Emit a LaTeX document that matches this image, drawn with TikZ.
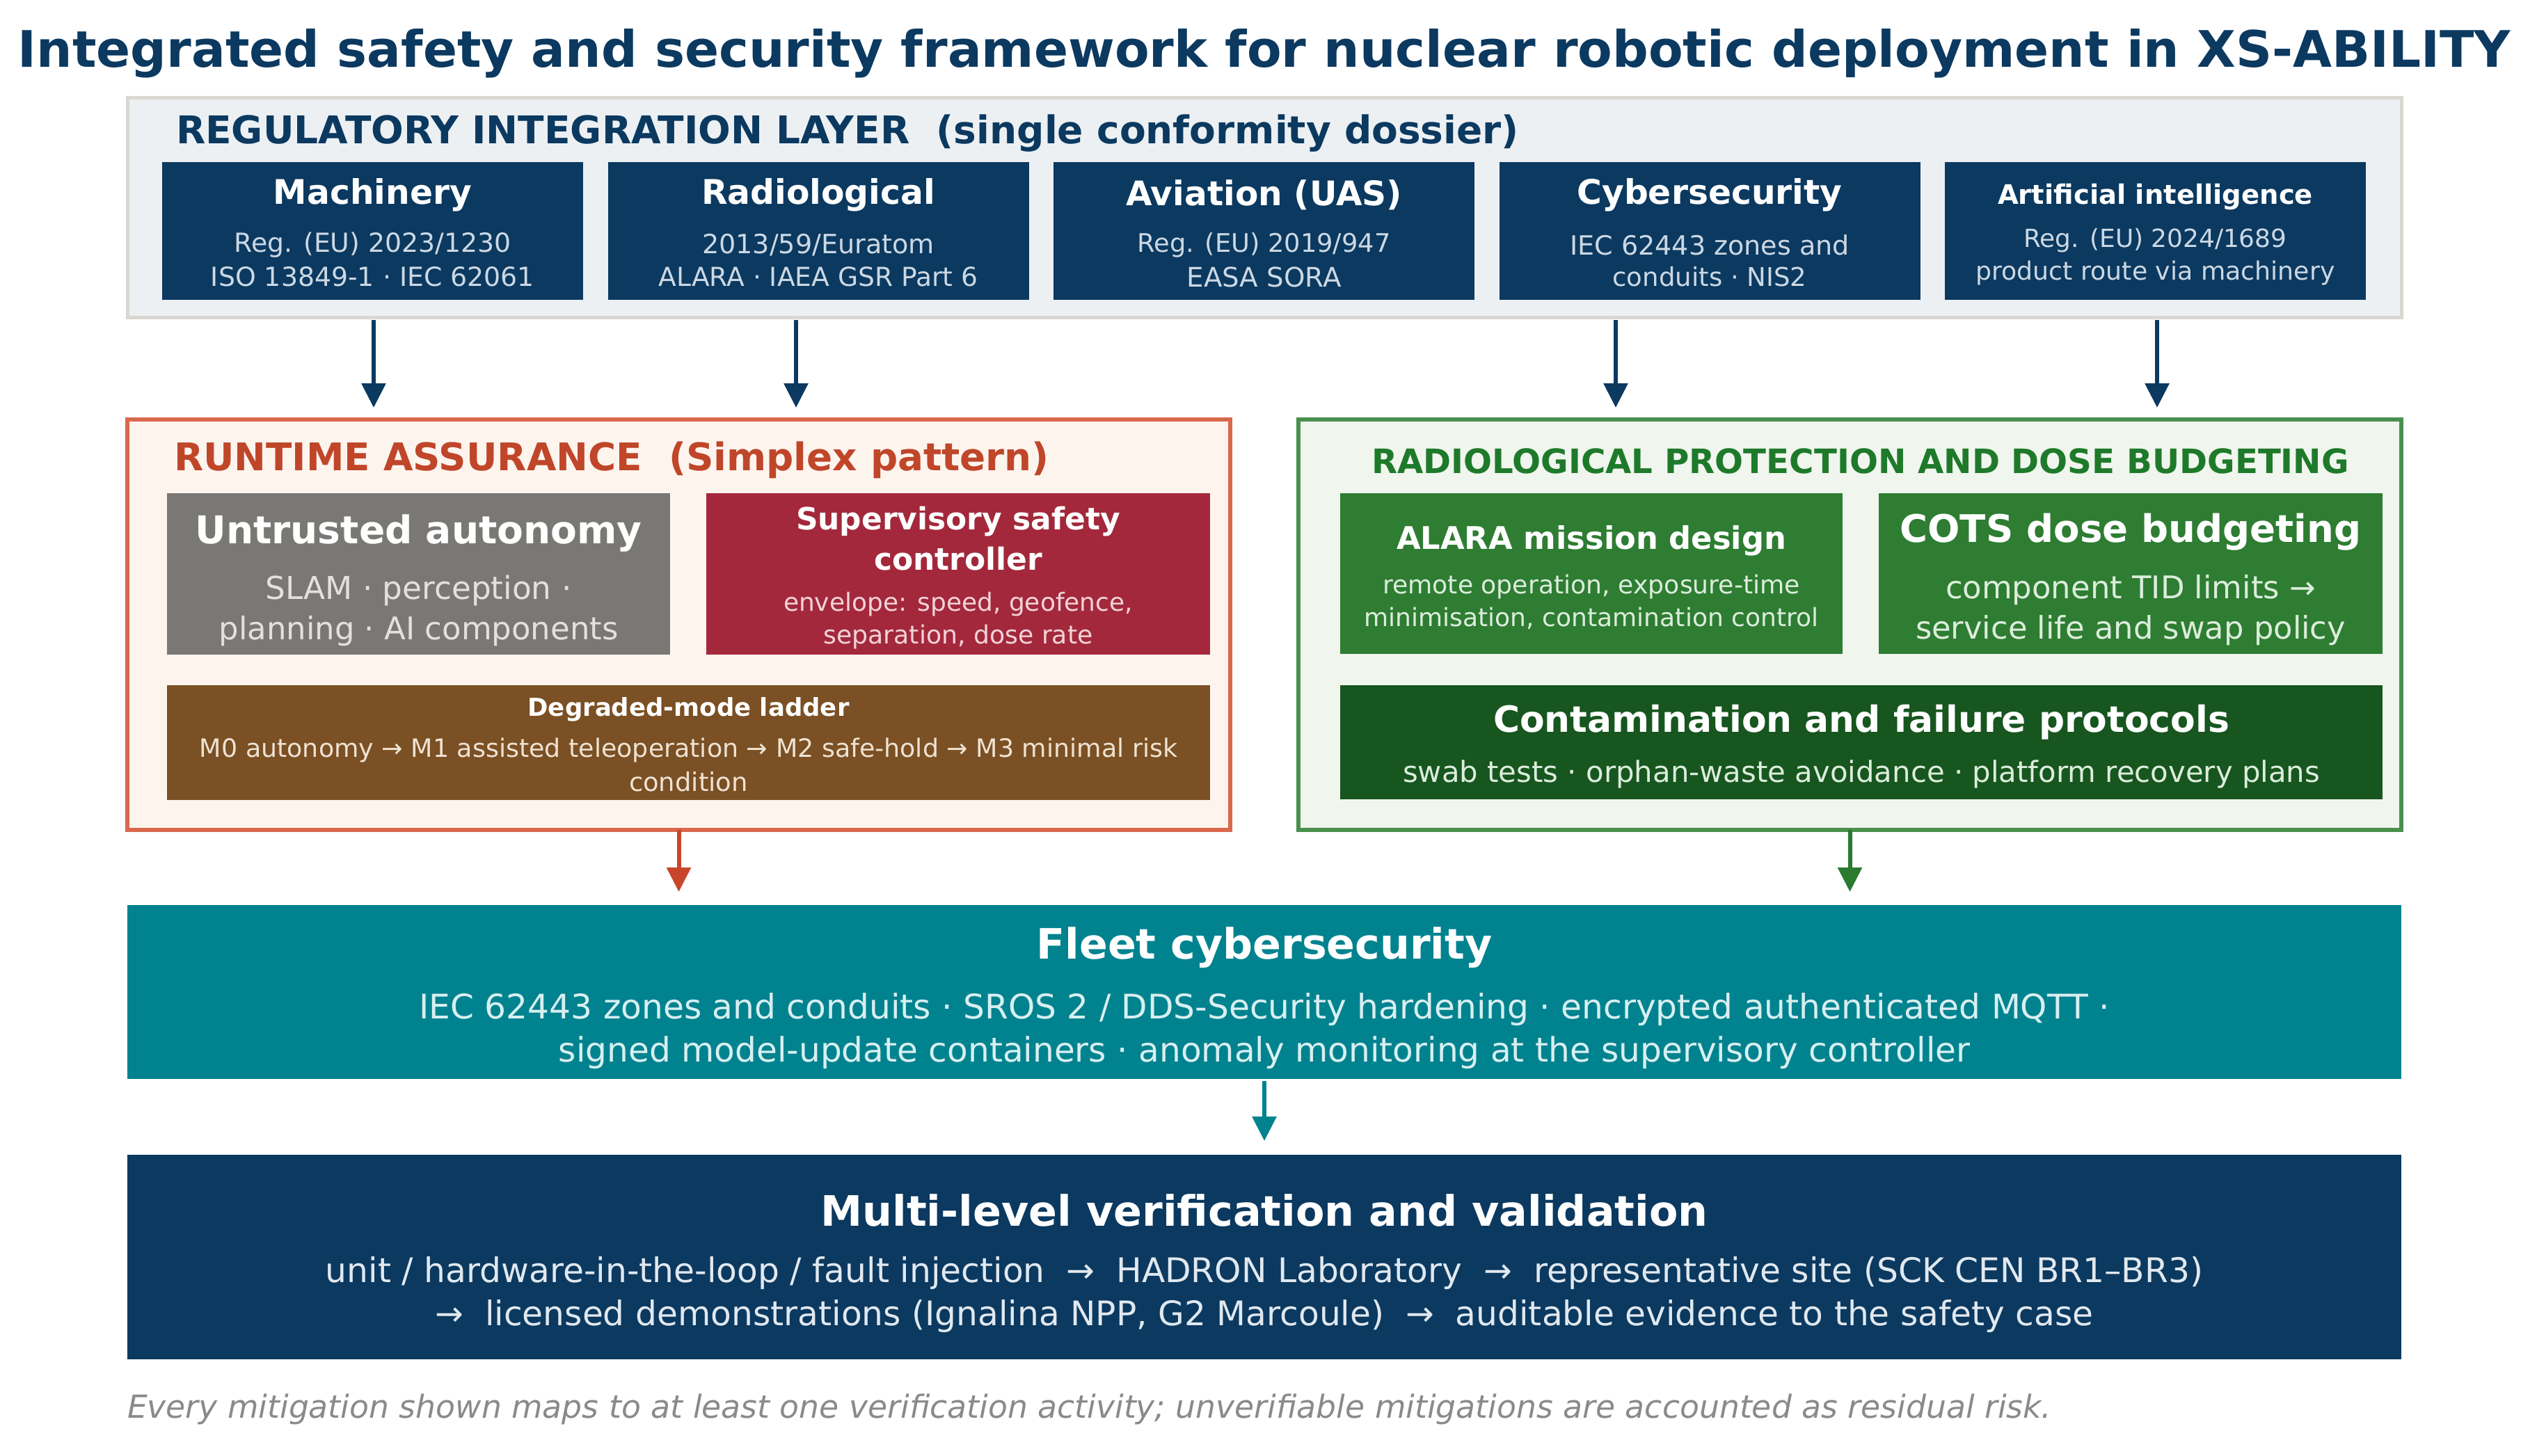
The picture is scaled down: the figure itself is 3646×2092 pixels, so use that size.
\documentclass[tikz,border=0pt]{standalone}
\usepackage{fontspec}
\setmainfont{DejaVu Sans}
\usepackage{graphicx}
\usetikzlibrary{arrows.meta}
\newdimen\pxu \pxu=0.2pt
\newcommand\fw[2]{\resizebox{#1\pxu}{!}{#2}}
\definecolor{navy}{HTML}{0B3960}
\definecolor{regfill}{HTML}{ECF0F3}
\definecolor{regline}{HTML}{DAD7D0}
\definecolor{rtfill}{HTML}{FDF4EE}
\definecolor{rtline}{HTML}{D9684C}
\definecolor{rttext}{HTML}{C0462A}
\definecolor{rtarrow}{HTML}{C8452B}
\definecolor{untr}{HTML}{7A7874}
\definecolor{superv}{HTML}{A3283B}
\definecolor{degr}{HTML}{7A5024}
\definecolor{grfill}{HTML}{F0F5EE}
\definecolor{grline}{HTML}{4B8F4E}
\definecolor{grtext}{HTML}{1E7A2A}
\definecolor{grarrow}{HTML}{2A7A30}
\definecolor{grbox}{HTML}{2E7D32}
\definecolor{grdark}{HTML}{17561F}
\definecolor{tealc}{HTML}{00838F}
\definecolor{foot}{HTML}{8A8A8A}
\definecolor{subnavy}{HTML}{CCD8E4}
\definecolor{subgray}{HTML}{E2E1DF}
\definecolor{subred}{HTML}{F2D3D8}
\definecolor{subbrown}{HTML}{EFE2D2}
\definecolor{subgreen}{HTML}{DCEDDC}
\definecolor{subteal}{HTML}{D8EFF1}
\definecolor{subvv}{HTML}{E1E8EF}
\begin{document}
\begin{tikzpicture}[x=0.2pt,y=-0.2pt,
  blk/.style={anchor=north west, inner sep=0pt, outer sep=0pt},
  bx/.style 2 args={blk, minimum width=#1*0.2pt, minimum height=#2*0.2pt},
  txt/.style={inner sep=0pt, outer sep=0pt, anchor=center, font=\normalfont},
  bf/.style={txt, font=\bfseries},
  arr/.style={line width=1.2pt, -{Triangle[width=6.8pt,length=7pt]}}]
\path[fill=white, use as bounding box] (0,0) rectangle (3646,2092);

% title
\node[bf, text=navy] (title) at (1817,77) {\fw{3582}{Integrated safety and security framework for nuclear robotic deployment in XS-ABILITY}};

% regulatory layer
\node[bx={3268}{315}, fill=regfill, draw=regline, line width=1pt] (reg) at (183,141) {};
\node[bf, text=navy, anchor=west] (reglab) at (253,192) {\fw{1930}{REGULATORY INTEGRATION LAYER~~(single conformity dossier)}};
\node[bx={605}{198}, fill=navy] (mach) at (233,233) {};
\node[bx={605}{198}, fill=navy] (rad) at (873.5,233) {};
\node[bx={605}{198}, fill=navy] (avi) at (1514,233) {};
\node[bx={605}{198}, fill=navy] (cyb) at (2154.5,233) {};
\node[bx={605}{198}, fill=navy] (ai) at (2795,233) {};

\node[bf, text=white] (machT) at (535.5,280) {\fw{285}{Machinery}};
\node[txt, text=subnavy] (machA) at (535.5,352) {\fw{398}{Reg. (EU) 2023/1230}};
\node[txt, text=subnavy] (machB) at (535.5,398) {\fw{465}{ISO 13849-1 · IEC 62061}};

\node[bf, text=white] (radT) at (1176,280) {\fw{336}{Radiological}};
\node[txt, text=subnavy] (radA) at (1176,352) {\fw{334}{2013/59/Euratom}};
\node[txt, text=subnavy] (radB) at (1176,398) {\fw{459}{ALARA · IAEA GSR Part 6}};

\node[bf, text=white] (aviT) at (1816.5,280) {\fw{397}{Aviation (UAS)}};
\node[txt, text=subnavy] (aviA) at (1816.5,352) {\fw{364}{Reg. (EU) 2019/947}};
\node[txt, text=subnavy] (aviB) at (1816.5,398) {\fw{222}{EASA SORA}};

\node[bf, text=white] (cybT) at (2457,280) {\fw{381}{Cybersecurity}};
\node[txt, text=subnavy] (cybA) at (2457,352) {\fw{402}{IEC 62443 zones and}};
\node[txt, text=subnavy] (cybB) at (2457,398) {\fw{279}{conduits · NIS2}};

\node[bf, text=white] (aiT) at (3097.5,283) {\fw{453}{Artificial intelligence}};
\node[txt, text=subnavy] (aiA) at (3097.5,346) {\fw{378}{Reg. (EU) 2024/1689}};
\node[txt, text=subnavy] (aiB) at (3097.5,392) {\fw{516}{product route via machinery}};

% runtime assurance
\node[bx={1585}{590}, fill=rtfill, draw=rtline, line width=1.2pt] (rt) at (183,603) {};
\node[bf, text=rttext, anchor=west] (rtlab) at (250,661) {\fw{1258}{RUNTIME ASSURANCE~~(Simplex pattern)}};
\node[bx={723}{232}, fill=untr] (untr) at (240,709) {};
\node[bx={724}{232}, fill=superv] (sup) at (1015,709) {};
\node[bx={1499}{165}, fill=degr] (deg) at (240,985) {};
\node[bf, text=white] (untrT) at (601.5,767) {\fw{642}{Untrusted autonomy}};
\node[txt, text=subgray] (untrA) at (601.5,849) {\fw{440}{SLAM · perception ·}};
\node[txt, text=subgray] (untrB) at (601.5,907) {\fw{574}{planning · AI components}};
\node[bf, text=white] (supT1) at (1377,750) {\fw{466}{Supervisory safety}};
\node[bf, text=white] (supT2) at (1377,803) {\fw{242}{controller}};
\node[txt, text=subred] (supA) at (1377,869) {\fw{502}{envelope: speed, geofence,}};
\node[txt, text=subred] (supB) at (1377,915) {\fw{387}{separation, dose rate}};
\node[bf, text=white] (degT) at (989.5,1020) {\fw{462}{Degraded-mode ladder}};
\node[txt, text=subbrown] (degA) at (989.5,1078) {\fw{1405}{M0 autonomy → M1 assisted teleoperation → M2 safe-hold → M3 minimal risk}};
\node[txt, text=subbrown] (degB) at (989.5,1124) {\fw{171}{condition}};

% radiological protection
\node[bx={1585}{590}, fill=grfill, draw=grline, line width=1.2pt] (gr) at (1866,603) {};
\node[bf, text=grtext, anchor=west] (grlab) at (1971,663) {\fw{1405}{RADIOLOGICAL PROTECTION AND DOSE BUDGETING}};
\node[bx={722}{231}, fill=grbox] (alara) at (1926,709) {};
\node[bx={724}{231}, fill=grbox] (cots) at (2700,709) {};
\node[bx={1498}{164}, fill=grdark] (cont) at (1926,985) {};
\node[bf, text=white] (alaraT) at (2287,777) {\fw{560}{ALARA mission design}};
\node[txt, text=subgreen] (alaraA) at (2287,843) {\fw{600}{remote operation, exposure-time}};
\node[txt, text=subgreen] (alaraB) at (2287,889) {\fw{653}{minimisation, contamination control}};
\node[bf, text=white] (cotsT) at (3062,765) {\fw{663}{COTS dose budgeting}};
\node[txt, text=subgreen] (cotsA) at (3062,848) {\fw{532}{component TID limits →}};
\node[txt, text=subgreen] (cotsB) at (3062,906) {\fw{618}{service life and swap policy}};
\node[bf, text=white] (contT) at (2675,1038) {\fw{1058}{Contamination and failure protocols}};
\node[txt, text=subgreen] (contA) at (2675,1113) {\fw{1318}{swab tests · orphan-waste avoidance · platform recovery plans}};

% fleet cybersecurity
\node[bx={3268}{250}, fill=tealc] (fleet) at (183,1301) {};
\node[bf, text=white] (fleetT) at (1817,1362) {\fw{655}{Fleet cybersecurity}};
\node[txt, text=subteal] (fleetA) at (1817,1451) {\fw{2429}{IEC 62443 zones and conduits · SROS 2 / DDS-Security hardening · encrypted authenticated MQTT ·}};
\node[txt, text=subteal] (fleetB) at (1817,1513) {\fw{2028}{signed model-update containers · anomaly monitoring at the supervisory controller}};

% verification and validation
\node[bx={3268}{294}, fill=navy] (vv) at (183,1660) {};
\node[bf, text=white] (vvT) at (1817,1740) {\fw{1275}{Multi-level verification and validation}};
\node[txt, text=subvv] (vvA) at (1817,1830) {\fw{2698}{unit / hardware-in-the-loop / fault injection~~→~~HADRON Laboratory~~→~~representative site (SCK CEN BR1–BR3)}};
\node[txt, text=subvv] (vvB) at (1817,1892) {\fw{2383}{→~~licensed demonstrations (Ignalina NPP, G2 Marcoule)~~→~~auditable evidence to the safety case}};

% footnote
\node[txt, text=foot, anchor=west, font=\itshape] (note) at (183,2026) {\fw{2765}{Every mitigation shown maps to at least one verification activity; unverifiable mitigations are accounted as residual risk.}};

% connectors
\coordinate (c1) at (537,0);
\coordinate (c2) at (1144,0);
\coordinate (c3) at (2322,0);
\coordinate (c4) at (3100,0);
\draw[arr, navy, shorten <=0.8pt, shorten >=3.4pt] (reg.south -| c1) -- (rt.north -| c1);
\draw[arr, navy, shorten <=0.8pt, shorten >=3.4pt] (reg.south -| c2) -- (rt.north -| c2);
\draw[arr, navy, shorten <=0.8pt, shorten >=3.4pt] (reg.south -| c3) -- (gr.north -| c3);
\draw[arr, navy, shorten <=0.8pt, shorten >=3.4pt] (reg.south -| c4) -- (gr.north -| c4);
\draw[arr, rtarrow, shorten >=3.8pt] (rt.south) -- (fleet.north -| rt.south);
\draw[arr, grarrow, shorten >=3.8pt] (gr.south) -- (fleet.north -| gr.south);
\draw[arr, tealc, shorten <=0.6pt, shorten >=4pt] (fleet.south) -- (vv.north);
\end{tikzpicture}
\end{document}
